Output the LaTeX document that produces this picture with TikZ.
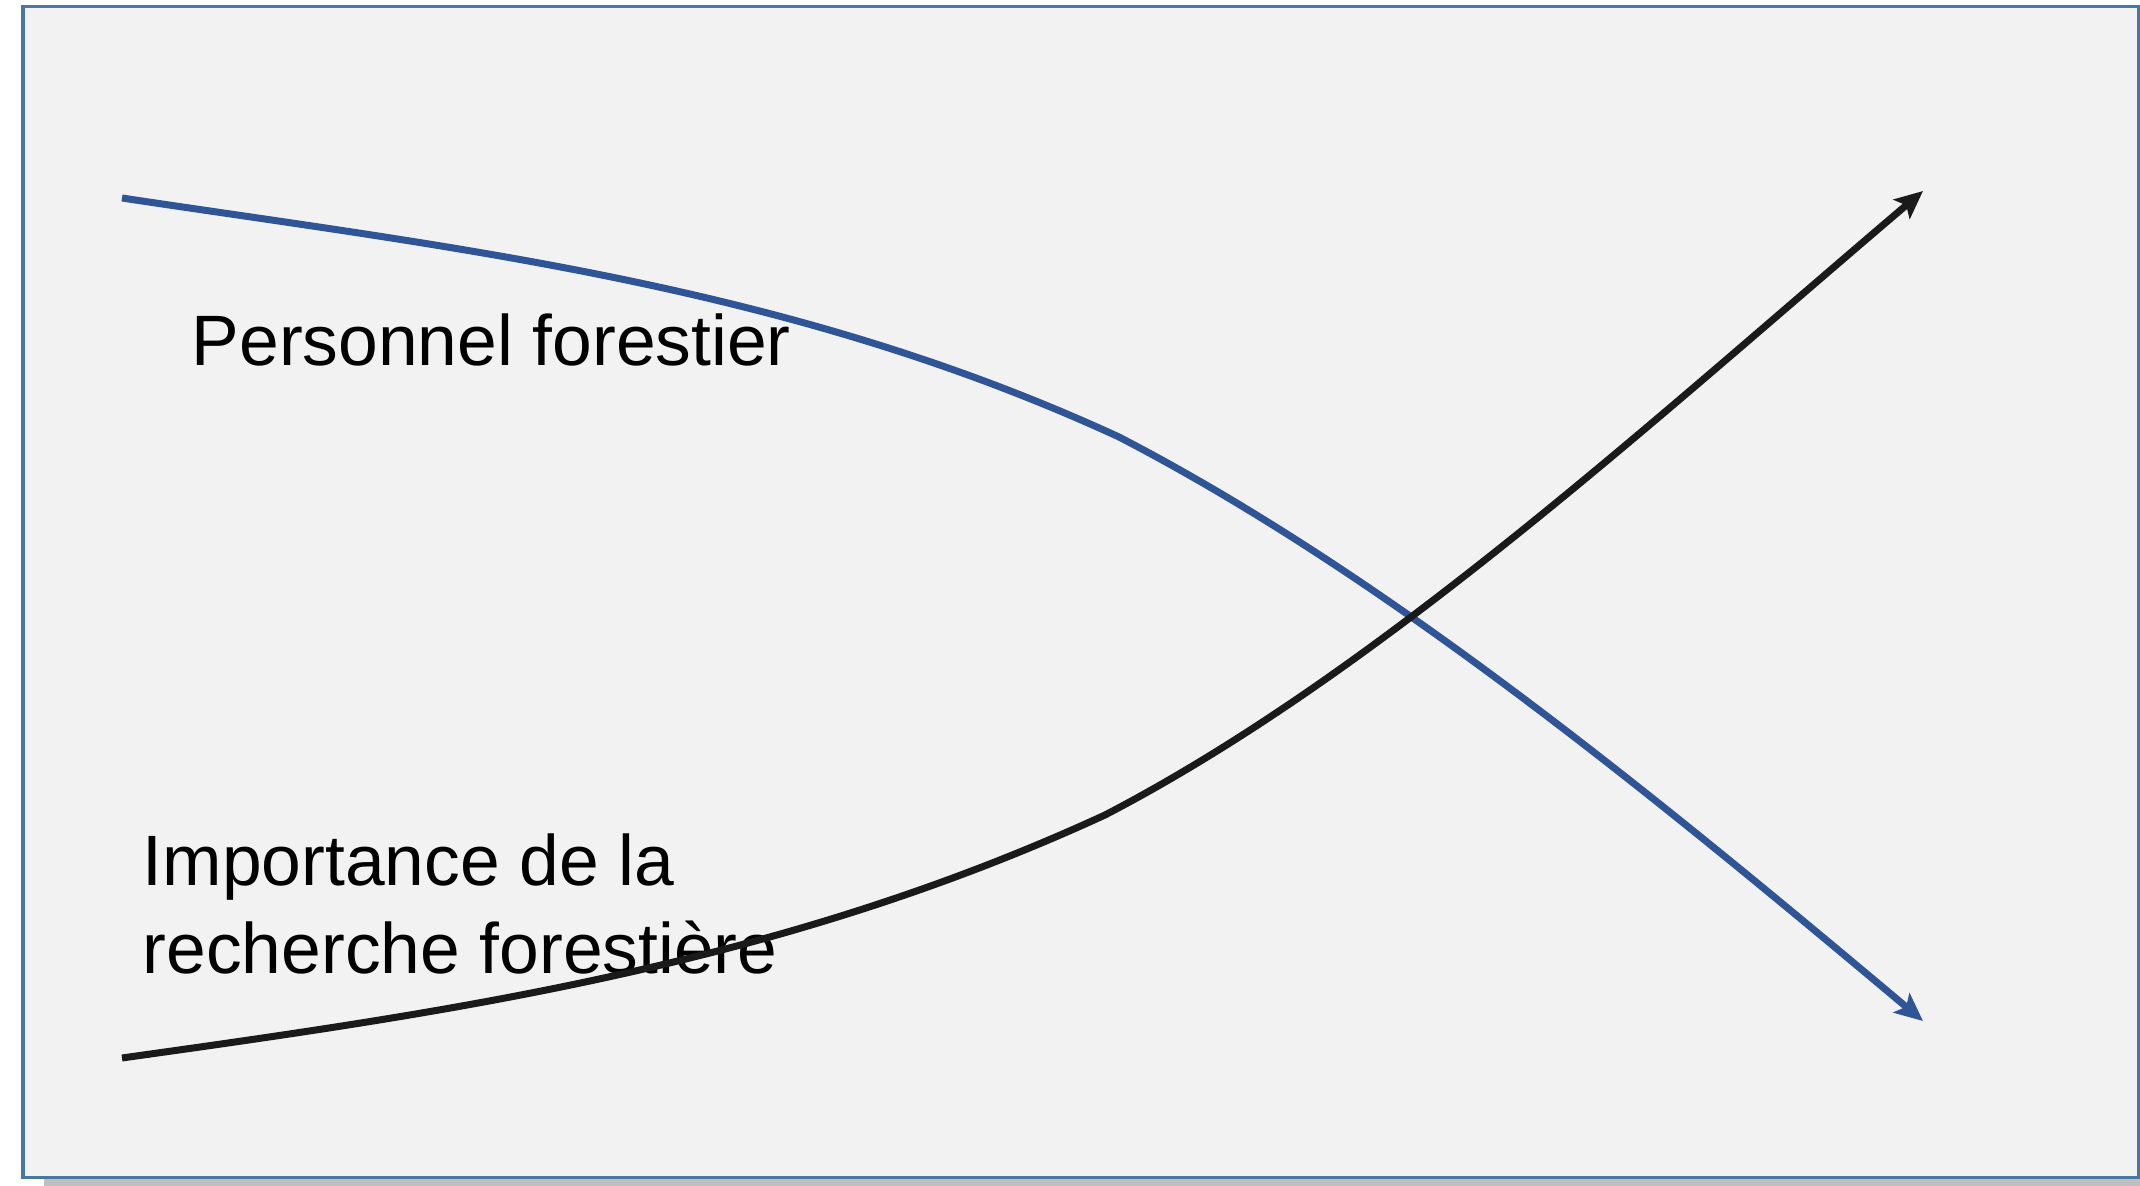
\documentclass[tikz,border=0pt]{standalone}
\usepackage{fontspec}
\setmainfont{Liberation Sans}
\usetikzlibrary{arrows.meta}

\definecolor{panelfill}{HTML}{F2F2F2}
\definecolor{panelline}{HTML}{4A76A2}
\definecolor{panelshadow}{HTML}{BFBFBF}
\definecolor{staffblue}{HTML}{2F5597}
\definecolor{trendblack}{HTML}{1A1A1A}

\begin{document}
\begin{tikzpicture}[
    x=0.01cm, y=-0.01cm,
    panel/.style={draw=panelline, line width=0.03cm, fill=panelfill},
    trend/.style={line width=0.07cm, -{Stealth[length=0.28cm, width=0.25cm, inset=0.06cm]}},
    label/.style={inner sep=0pt, font=\fontsize{20.3pt}{25pt}\selectfont, align=left}
  ]
    \useasboundingbox (0,0) rectangle (2140,1186);

    \fill[panelshadow] (44,15) rectangle (2140,1186);
    \draw[panel] (23,7) rectangle (2138,1177);

    \node[label, anchor=base west] (staff) at (191,366) {Personnel forestier};
    \node[label, anchor=north west] (research) at (142,833) {Importance de la\\recherche forestière};

    % personnel: falls, then drops faster
    \coordinate (staffbend) at (1119,437);
    \draw[trend, staffblue] (122,198) .. controls (454,248) and (787,284) .. (staffbend)
      .. controls (1387,576) and (1655,796) .. (1923,1021);
    % recherche: rises, then climbs faster
    \coordinate (researchbend) at (1105,815);
    \draw[trend, trendblack] (122,1058) .. controls (450,1012) and (777,966) .. (researchbend)
      .. controls (1378,673) and (1650,423) .. (1923,191);
  \end{tikzpicture}
\end{document}
